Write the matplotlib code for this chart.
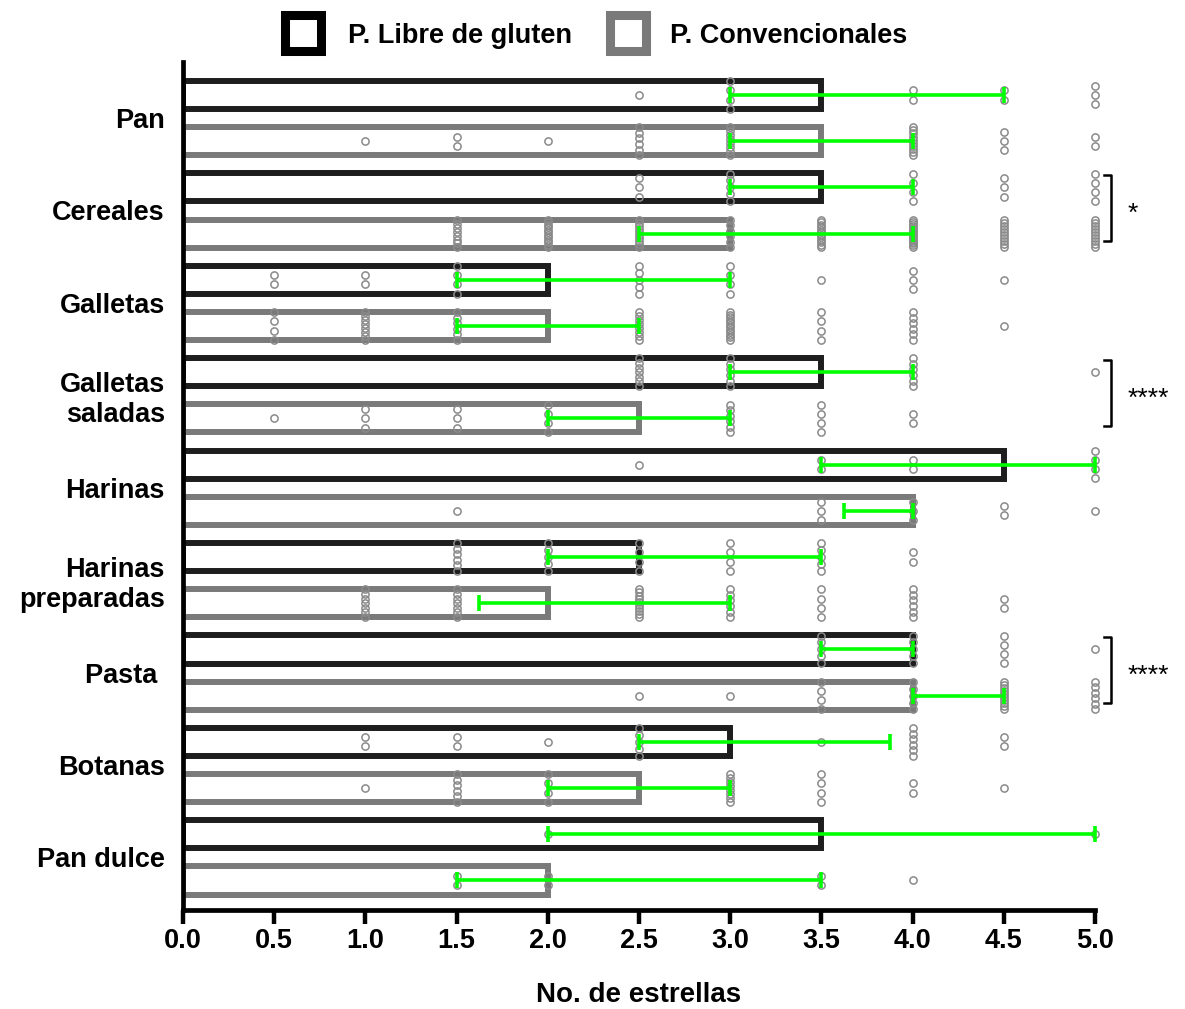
import numpy as np
import matplotlib
matplotlib.use('Agg')
import matplotlib.pyplot as plt
from matplotlib.patches import Rectangle

categories = ['Pan', 'Cereales', 'Galletas', 'Galletas\nsaladas', 'Harinas',
              'Harinas\npreparadas', 'Pasta ', 'Botanas', 'Pan dulce']

# bar values (No. de estrellas)
lg_bar = [3.5, 3.5, 2.0, 3.5, 4.5, 2.5, 4.0, 3.0, 3.5]
conv_bar = [3.5, 3.0, 2.0, 2.5, 4.0, 2.0, 4.0, 2.5, 2.0]

# error bar ranges
lg_low = [3.0, 3.0, 1.5, 3.0, 3.5, 2.0, 3.5, 2.5, 2.0]
lg_high = [4.5, 4.0, 3.0, 4.0, 5.0, 3.5, 4.0, 3.875, 5.0]
conv_low = [3.0, 2.5, 1.5, 2.0, 3.625, 1.625, 4.0, 2.0, 1.5]
conv_high = [4.0, 4.0, 2.5, 3.0, 4.0, 3.0, 4.5, 3.0, 3.5]

# individual ratings: (value, count)
lg_dots = [
    [(2.5, 1), (3.0, 4), (4.0, 2), (4.5, 2), (5.0, 3)],
    [(2.5, 3), (3.0, 5), (4.0, 4), (4.5, 3), (5.0, 4)],
    [(0.5, 2), (1.0, 2), (1.5, 4), (2.5, 5), (3.0, 4), (3.5, 1), (4.0, 3), (4.5, 1)],
    [(2.5, 7), (3.0, 6), (4.0, 6), (5.0, 1)],
    [(2.5, 1), (3.5, 2), (4.0, 2), (5.0, 4)],
    [(1.5, 6), (2.0, 5), (2.5, 4), (3.0, 4), (3.5, 5), (4.0, 2)],
    [(3.5, 5), (4.0, 5), (4.5, 4), (5.0, 1)],
    [(1.0, 2), (1.5, 2), (2.0, 1), (2.5, 5), (3.5, 1), (4.0, 6), (4.5, 2)],
    [(2.0, 1), (5.0, 1)],
]
conv_dots = [
    [(1.0, 1), (1.5, 2), (2.0, 1), (2.5, 6), (3.0, 8), (4.0, 10), (4.5, 3), (5.0, 2)],
    [(1.5, 8), (2.0, 12), (2.5, 10), (3.0, 6), (3.5, 12), (4.0, 15), (4.5, 10), (5.0, 10)],
    [(0.5, 4), (1.0, 8), (1.5, 6), (2.5, 8), (3.0, 12), (3.5, 4), (4.0, 6), (4.5, 1)],
    [(0.5, 1), (1.0, 3), (1.5, 3), (2.0, 4), (3.0, 6), (3.5, 4), (4.0, 2)],
    [(1.5, 1), (3.5, 3), (4.0, 3), (4.5, 2), (5.0, 1)],
    [(1.0, 7), (1.5, 7), (2.5, 10), (3.0, 6), (3.5, 4), (4.0, 6), (4.5, 2)],
    [(2.5, 1), (3.0, 1), (3.5, 4), (4.0, 5), (4.5, 10), (5.0, 6)],
    [(1.0, 1), (1.5, 6), (2.0, 4), (3.0, 8), (3.5, 4), (4.0, 2), (4.5, 1)],
    [(1.5, 2), (2.0, 2), (3.5, 2), (4.0, 1)],
]

# significance: (category index, stars)
signif = [(1, '*'), (3, '****'), (6, '****')]

BLACK = '#1e1e1e'
GRAY = '#7a7a7a'
DOT = '#8a8a8a'
GREEN = '#00ff00'

plt.rcParams['font.family'] = ['Liberation Sans', 'DejaVu Sans']
plt.rcParams['font.weight'] = 'bold'

W, H = 1185, 1009
fig = plt.figure(figsize=(W / 100, H / 100), dpi=100)
ax = fig.add_axes([183 / W, 1 - 910 / H, (1095 - 183) / W, (910 - 62) / H])


def stack(n):
    step = min(0.2, 0.6 / max(n - 1, 1))
    return (np.arange(n) - (n - 1) / 2) * step


n = len(categories)
y_lg = np.arange(n) * 2
y_conv = y_lg + 1

ax.barh(y_lg, lg_bar, height=0.61, color='white', edgecolor=BLACK, linewidth=4.3, zorder=2)
ax.barh(y_conv, conv_bar, height=0.61, color='white', edgecolor=GRAY, linewidth=4.3, zorder=2)

for ys, dots in ((y_lg, lg_dots), (y_conv, conv_dots)):
    for y, row in zip(ys, dots):
        for val, cnt in row:
            offs = stack(cnt)
            ax.plot([val] * cnt, y + offs, 'o', ms=5.2, mfc='none', mec=DOT, mew=1.1,
                    zorder=3, clip_on=False)

for ys, lo, hi in ((y_lg, lg_low, lg_high), (y_conv, conv_low, conv_high)):
    lo = np.array(lo)
    hi = np.array(hi)
    mid = (lo + hi) / 2
    ax.errorbar(mid, ys, xerr=(hi - lo) / 2, fmt='none', ecolor=GREEN, elinewidth=2.6,
                capsize=6, capthick=2.6, zorder=4, clip_on=False)

for i, stars in signif:
    top = y_lg[i] - 0.27
    bot = y_conv[i] + 0.17
    xb = 5.09
    ax.plot([xb - 0.04, xb, xb, xb - 0.04], [top, top, bot, bot], color='black',
            lw=1.8, clip_on=False, zorder=5)
    ax.text(xb + 0.09, (top + bot) / 2 + 0.12, stars, fontsize=19, fontweight='normal',
            ha='left', va='center', clip_on=False)

ax.set_xlim(0, 5)
ax.set_ylim(17.64, -0.714)
ax.set_xticks(np.arange(0, 5.01, 0.5))
ax.set_xticklabels([f'{v:.1f}' for v in np.arange(0, 5.01, 0.5)], fontsize=19.5, fontweight='bold')
ax.set_yticks(y_lg + 0.5)
ax.set_yticklabels(categories, fontsize=19.5, fontweight='bold')
ax.tick_params(axis='y', length=0, pad=13)
ax.tick_params(axis='x', length=10, width=3.2, pad=3, direction='out')
for s in ('top', 'right'):
    ax.spines[s].set_visible(False)
for s in ('left', 'bottom'):
    ax.spines[s].set_linewidth(3.4)
    ax.spines[s].set_zorder(6)
ax.set_xlabel('No. de estrellas', fontsize=20, fontweight='bold', labelpad=20)


def px(x, y):
    return x / W, 1 - y / H


# legend drawn in figure pixels
for x0, col, label, tx in ((280, 'black', 'P. Libre de gluten', 348),
                           (605, GRAY, 'P. Convencionales', 670)):
    r = Rectangle(px(x0 + 4.5, 55 - 4.5), 36 / W, 36 / H, transform=fig.transFigure,
                  facecolor='white', edgecolor=col, linewidth=6.5)
    fig.patches.append(r)
    fig.text(*px(tx, 36), label, fontsize=19.5, fontweight='bold', ha='left', va='center')

fig.savefig('out.png', dpi=100)
